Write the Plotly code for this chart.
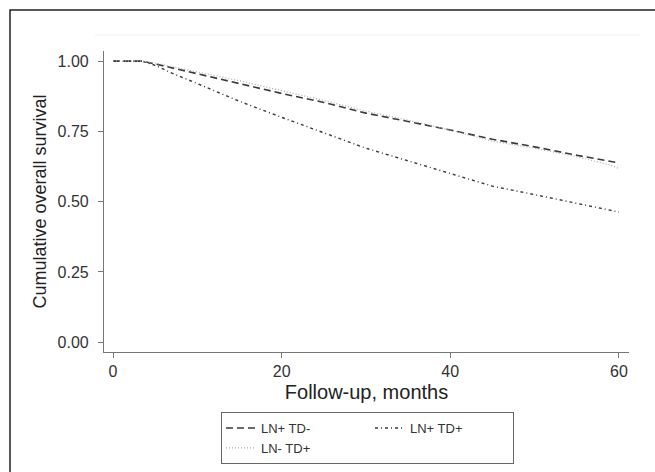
import plotly.graph_objects as go

# Data
months_a = [0, 3.4, 5, 10, 15, 20, 25, 30, 35, 40, 45, 50, 55, 60]
ln_pos_td_neg = [1.0, 1.0, 0.99, 0.955, 0.92, 0.885, 0.853, 0.815, 0.785, 0.755, 0.722, 0.695, 0.665, 0.638]

months_b = [0, 3.4, 5, 7, 10, 15, 20, 25, 30, 35, 40, 45, 50, 55, 60]
ln_pos_td_pos = [1.0, 1.0, 0.985, 0.957, 0.92, 0.857, 0.80, 0.745, 0.69, 0.645, 0.60, 0.555, 0.525, 0.495, 0.463]

months_c = [0, 3.4, 5, 10, 15, 20, 25, 30, 35, 40, 45, 50, 55, 59, 60]
ln_neg_td_pos = [1.0, 1.0, 0.993, 0.962, 0.93, 0.895, 0.86, 0.822, 0.79, 0.755, 0.715, 0.69, 0.66, 0.63, 0.618]

x_ticks = [0, 20, 40, 60]
y_ticks = [0, 0.25, 0.5, 0.75, 1.0]
y_tick_labels = ["0.00", "0.25", "0.50", "0.75", "1.00"]

FONT = "Liberation Sans"

fig = go.Figure()
fig.add_trace(go.Scatter(x=months_a, y=ln_pos_td_neg, mode="lines", name="LN+ TD-",
                         legendgroup="a",
                         line=dict(color="#3a3a3a", width=1.6, dash="7px,4px")))
fig.add_trace(go.Scatter(x=months_b, y=ln_pos_td_pos, mode="lines", name="LN+ TD+",
                         legendgroup="b", legendwidth=98,
                         line=dict(color="#3a3a3a", width=1.4, dash="3px,3px,1px,3px")))
fig.add_trace(go.Scatter(x=months_c, y=ln_neg_td_pos, mode="lines", name="LN- TD+",
                         legendgroup="a",
                         line=dict(color="#aaaaaa", width=1.2, dash="1px,2px")))

W, H = 655, 472
L, R, T, B = 104, 26, 51, 120
pw, ph = W - L - R, H - T - B

def px(xp):
    return (xp - L) / pw

def py(yp):
    return (H - B - yp) / ph

fig.update_layout(
    width=W, height=H,
    margin=dict(l=L, r=R, t=T, b=B, autoexpand=False),
    paper_bgcolor="white", plot_bgcolor="white",
    font=dict(family=FONT, color="#333333"),
    showlegend=True,
    legend=dict(
        orientation="h", traceorder="grouped",
        x=px(221), xanchor="left", y=py(412), yanchor="top",
        bordercolor="#666666", borderwidth=1, bgcolor="white",
        entrywidth=104, tracegroupgap=0,
        font=dict(family=FONT, size=13, color="#333333"),
    ),
    xaxis=dict(
        range=[-1.07, 61.2], tickvals=x_ticks, ticktext=[str(v) for v in x_ticks],
        showgrid=False, zeroline=False, showline=True, linecolor="#777777", linewidth=1.2,
        ticks="outside", ticklen=5, tickcolor="#777777", tickwidth=1.2,
        tickfont=dict(family=FONT, size=16, color="#333333"),
        title=dict(text="Follow-up, months", font=dict(family=FONT, size=20, color="#222222"), standoff=5),
    ),
    yaxis=dict(
        range=[-0.035, 1.036], tickvals=y_ticks, ticktext=y_tick_labels,
        showgrid=False, zeroline=False, showline=True, linecolor="#777777", linewidth=1.2,
        ticks="outside", ticklen=5, tickcolor="#777777", tickwidth=1.2, ticklabelstandoff=6,
        tickfont=dict(family=FONT, size=16, color="#333333"),
        title=dict(text="Cumulative overall survival", font=dict(family=FONT, size=18, color="#222222"), standoff=6),
    ),
    shapes=[
        dict(type="rect", xref="paper", yref="paper",
             x0=px(10), x1=px(700), y0=py(530), y1=py(10),
             line=dict(color="#222222", width=1.5), layer="below"),
        dict(type="line", xref="paper", yref="paper",
             x0=px(95), x1=px(640), y0=py(35), y1=py(35),
             line=dict(color="#f0f0f0", width=1), layer="below"),
    ],
)

fig.write_html("out.html", config={"displayModeBar": False},
               post_script="document.body.style.margin='0';")
